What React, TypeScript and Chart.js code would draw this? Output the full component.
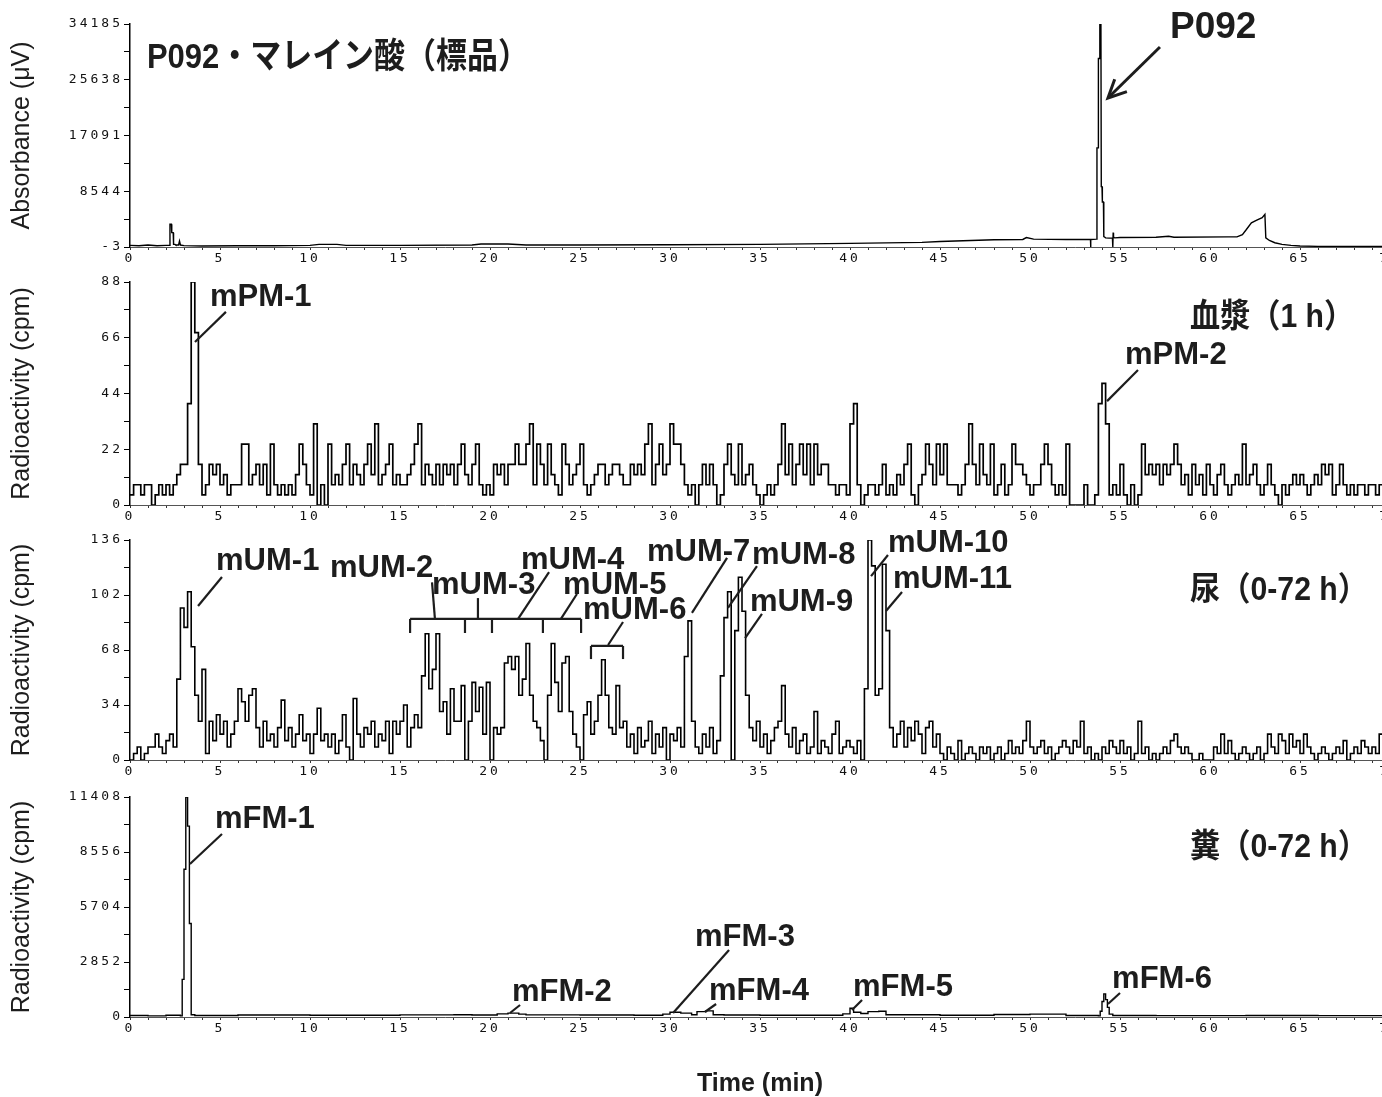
import React, { useEffect, useRef } from "react";
import { Chart, registerables } from "chart.js";

Chart.register(...registerables);

// ---------------- data ----------------
const timeTicks = Array.from({ length: 71 }, (_, i) => i); // 0..70 min
const timeLabelEvery = 5;
const binWidth = 0.2; // min, radioactivity bins

const absTicks = [-3, 8544, 17091, 25638, 34185];
const plasmaTicks = [0, 22, 44, 66, 88];
const urineTicks = [0, 34, 68, 102, 136];
const fecesTicks = [0, 2852, 5704, 8556, 11408];

// [time (min), absorbance (uV)]
const absorbance: [number, number][] = [
  [0, 250], [0.5, 200], [1.0, 300], [1.5, 200], [2.0, 250], [2.2, 250], [2.22, 3500], [2.3, 3500],
  [2.32, 2200], [2.4, 2200], [2.42, 400], [2.5, 400], [2.55, 300], [2.7, 300], [2.75, 900], [2.8, 300],
  [3.0, 200], [4.0, 150], [6.0, 200], [8.0, 200], [10.0, 250], [10.5, 400], [11.5, 400], [12.0, 250],
  [15.0, 250], [19.0, 300], [19.5, 450], [21.0, 450], [22.0, 300], [25.0, 300], [30.0, 350], [35.0, 400],
  [40.0, 550], [44.0, 700], [45.0, 850], [48.0, 1100], [49.6, 1150], [49.8, 1450], [50.2, 1200], [52.0, 1150],
  [53.3, 1150], [53.36, 1150], [53.37, -3], [53.38, 1150], [53.7, 1200], [53.72, 15200], [53.78, 15200],
  [53.8, 28900], [53.86, 28900], [53.88, 34185], [53.94, 34185], [53.96, 9250], [54.0, 9250], [54.02, 6900],
  [54.08, 6900], [54.1, 1600], [54.16, 1500], [54.2, 1400], [54.4, 1350], [54.58, 1350], [54.6, -3],
  [54.62, 2200], [54.64, 1500], [54.7, 1400], [55.0, 1450], [57.0, 1500], [57.7, 1650], [58.0, 1500],
  [61.0, 1550], [61.5, 1550], [61.8, 1900], [62.0, 2600], [62.3, 3700], [62.6, 4100], [62.9, 4500],
  [63.05, 5000], [63.1, 1400], [63.3, 1000], [63.6, 650], [64.0, 400], [64.5, 250], [65.0, 150], [66.0, 100],
  [70.0, 100],
];

// plasma (1 h), cpm per 0.2-min bin starting at 0 min
const plasmaCounts = [
  4, 8, 8, 4, 8, 8, 0, 4, 8, 4, 8, 4, 8, 12, 16, 16, 40, 88, 68, 16, 4, 8, 16, 12, 16,
  8, 12, 4, 8, 8, 8, 24, 24, 8, 12, 16, 8, 16, 4, 24, 8, 4, 8, 4, 8, 4, 12, 24, 16, 8,
  4, 32, 0, 8, 0, 24, 8, 12, 8, 16, 24, 8, 16, 12, 8, 16, 24, 12, 32, 8, 12, 16, 24, 8, 12,
  8, 8, 12, 16, 24, 32, 8, 16, 12, 8, 16, 8, 16, 12, 16, 8, 16, 24, 12, 8, 16, 24, 8, 4, 8,
  4, 16, 12, 16, 8, 16, 16, 24, 16, 16, 24, 32, 8, 24, 16, 8, 24, 12, 8, 4, 24, 16, 8, 12, 16,
  24, 8, 4, 8, 12, 16, 16, 8, 12, 16, 16, 12, 8, 8, 16, 12, 16, 12, 24, 32, 8, 16, 24, 12, 16,
  32, 24, 24, 16, 8, 4, 8, 0, 8, 16, 8, 16, 8, 0, 4, 16, 24, 12, 8, 24, 8, 12, 16, 8, 4,
  0, 4, 8, 4, 8, 16, 32, 12, 24, 8, 16, 24, 12, 24, 8, 24, 12, 16, 16, 8, 8, 4, 8, 8, 4,
  32, 40, 8, 0, 4, 8, 8, 4, 8, 16, 4, 8, 4, 12, 8, 16, 24, 4, 0, 8, 12, 24, 16, 8, 24,
  12, 24, 8, 8, 8, 4, 8, 16, 32, 16, 8, 24, 12, 8, 24, 4, 8, 16, 4, 8, 24, 16, 16, 12, 8,
  4, 8, 8, 16, 24, 16, 8, 4, 8, 4, 24, 0, 0, 0, 0, 8, 0, 0, 4, 40, 48, 32, 4, 8, 4,
  16, 4, 0, 8, 0, 4, 24, 12, 16, 12, 16, 8, 16, 12, 16, 24, 16, 8, 12, 4, 16, 8, 12, 4, 16,
  8, 4, 12, 16, 8, 4, 8, 12, 8, 24, 8, 12, 16, 8, 4, 8, 16, 8, 4, 0, 8, 4, 8, 12, 8,
  12, 8, 4, 8, 12, 8, 16, 12, 16, 4, 8, 16, 8, 4, 8, 4, 8, 8, 4, 8, 8, 4, 8, 8, 16,
];

// urine (0-72 h), cpm per 0.2-min bin starting at 0 min
const urineCounts = [
  0, 4, 8, 0, 4, 8, 8, 16, 8, 4, 12, 16, 8, 50, 94, 82, 104, 70, 40, 24, 56, 4, 24, 12, 28,
  16, 24, 8, 16, 24, 44, 36, 24, 40, 44, 20, 8, 24, 12, 16, 8, 20, 37, 12, 20, 8, 16, 28, 12, 16,
  4, 16, 32, 12, 16, 8, 16, 4, 12, 28, 8, 0, 38, 16, 8, 20, 16, 24, 8, 16, 12, 24, 4, 24, 16,
  24, 34, 8, 20, 28, 20, 52, 78, 44, 56, 78, 30, 36, 16, 44, 24, 24, 46, 0, 24, 48, 30, 45, 16, 48,
  0, 20, 16, 20, 60, 64, 56, 64, 40, 50, 72, 40, 24, 20, 12, 0, 40, 72, 48, 30, 60, 64, 30, 16, 8,
  0, 28, 36, 16, 24, 40, 62, 40, 20, 16, 46, 20, 24, 8, 16, 4, 20, 8, 12, 24, 4, 16, 8, 20, 0,
  16, 12, 20, 8, 64, 86, 24, 8, 4, 16, 8, 20, 4, 12, 52, 88, 104, 0, 80, 113, 92, 40, 20, 12, 24,
  8, 16, 4, 12, 20, 24, 46, 16, 8, 20, 4, 12, 16, 4, 8, 30, 4, 12, 8, 4, 16, 24, 4, 8, 12,
  8, 4, 12, 0, 44, 136, 120, 40, 44, 121, 80, 20, 8, 16, 24, 8, 20, 12, 24, 16, 4, 20, 24, 8, 16,
  4, 0, 8, 4, 0, 12, 0, 4, 8, 4, 0, 8, 4, 8, 0, 4, 8, 0, 4, 12, 4, 8, 4, 12, 24,
  8, 4, 8, 12, 4, 8, 0, 4, 8, 12, 8, 4, 12, 8, 24, 4, 8, 0, 4, 0, 8, 4, 12, 8, 4,
  12, 4, 8, 0, 4, 24, 4, 8, 0, 4, 0, 4, 8, 4, 12, 16, 8, 4, 8, 4, 0, 0, 4, 0, 0,
  0, 8, 4, 16, 4, 12, 4, 0, 4, 8, 4, 0, 4, 8, 0, 4, 16, 8, 4, 16, 12, 4, 16, 8, 12,
  4, 16, 8, 4, 0, 4, 8, 4, 0, 4, 8, 4, 12, 0, 4, 8, 4, 12, 8, 4, 8, 4, 16, 20, 16,
];

// feces (0-72 h): [time (min), cpm]
const fecesCounts: [number, number][] = [
  [0, 80], [1, 60], [2, 90], [2.8, 60], [2.9, 1950], [3.0, 7660], [3.1, 11408], [3.2, 9900], [3.3, 4850],
  [3.4, 120], [3.6, 80], [6, 100], [10, 90], [15, 110], [18, 120], [19, 100], [20.4, 160], [21.0, 200],
  [21.6, 150], [22, 110], [25, 100], [28, 90], [29.6, 150], [30.0, 250], [30.6, 200], [31.2, 120],
  [31.5, 280], [32.0, 320], [32.4, 120], [33, 100], [35, 90], [39.6, 160], [40.0, 450], [40.2, 250],
  [40.6, 180], [41.0, 280], [41.6, 300], [42.0, 120], [45, 90], [48, 130], [50, 150], [52, 80], [53.8, 60],
  [53.9, 300], [54.0, 800], [54.1, 1200], [54.2, 900], [54.3, 500], [54.4, 150], [54.6, 80], [57, 70],
  [62, 80], [66, 70], [70, 70],
];

// ---------------- annotations (data units) ----------------
type TextAnn = { text: string; t: number; v: number; size: number; maxWidth?: number };
type LineAnn = { t1: number; v1: number; t2: number; v2: number; w?: number; arrow?: boolean };

const absTexts: TextAnn[] = [
  { text: "P092・マレイン酸（標品）", t: 0.94, v: 27440, size: 35, maxWidth: 382 },
  { text: "P092", t: 57.78, v: 32040, size: 37 },
];
const absLines: LineAnn[] = [{ t1: 57.22, v1: 30660, t2: 54.33, v2: 22840, w: 3, arrow: true }];

const plasmaTexts: TextAnn[] = [
  { text: "mPM-1", t: 4.44, v: 78.5, size: 31 },
  { text: "血漿（1 h）", t: 58.89, v: 70.2, size: 33, maxWidth: 164 },
  { text: "mPM-2", t: 55.28, v: 55.6, size: 31 },
];
const plasmaLines: LineAnn[] = [
  { t1: 5.33, v1: 76.2, t2: 3.61, v2: 64.3 },
  { t1: 56.0, v1: 53.3, t2: 54.28, v2: 41.0 },
];

const urineTexts: TextAnn[] = [
  { text: "mUM-1", t: 4.78, v: 117.5, size: 31 },
  { text: "mUM-2", t: 11.11, v: 113.1, size: 31 },
  { text: "mUM-3", t: 16.78, v: 102.6, size: 31 },
  { text: "mUM-4", t: 21.72, v: 118.1, size: 31 },
  { text: "mUM-5", t: 24.06, v: 102.6, size: 31 },
  { text: "mUM-6", t: 25.17, v: 87.2, size: 31 },
  { text: "mUM-7", t: 28.72, v: 123.0, size: 31 },
  { text: "mUM-8", t: 34.56, v: 121.2, size: 31 },
  { text: "mUM-9", t: 34.44, v: 92.1, size: 31 },
  { text: "mUM-10", t: 42.11, v: 128.6, size: 31 },
  { text: "mUM-11", t: 42.39, v: 106.3, size: 31 },
  { text: "尿（0-72 h）", t: 58.89, v: 98.9, size: 33, maxWidth: 178 },
];
const urineLines: LineAnn[] = [
  { t1: 5.11, v1: 113.1, t2: 3.78, v2: 95.2 },
  { t1: 16.78, v1: 109.8, t2: 16.94, v2: 87.2 },
  { t1: 19.33, v1: 87.2, t2: 19.33, v2: 100.1 },
  { t1: 21.56, v1: 87.2, t2: 23.28, v2: 116.2 },
  { t1: 23.94, v1: 87.2, t2: 24.83, v2: 102.6 },
  { t1: 15.56, v1: 87.2, t2: 25.06, v2: 87.2 },
  { t1: 15.56, v1: 87.2, t2: 15.56, v2: 78.5 },
  { t1: 18.61, v1: 87.2, t2: 18.61, v2: 78.5 },
  { t1: 20.11, v1: 87.2, t2: 20.11, v2: 78.5 },
  { t1: 22.94, v1: 87.2, t2: 22.94, v2: 78.5 },
  { t1: 25.06, v1: 87.2, t2: 25.06, v2: 78.5 },
  { t1: 27.39, v1: 85.3, t2: 26.56, v2: 71.1 },
  { t1: 25.61, v1: 70.5, t2: 27.39, v2: 70.5 },
  { t1: 25.61, v1: 70.5, t2: 25.61, v2: 62.4 },
  { t1: 27.39, v1: 70.5, t2: 27.39, v2: 62.4 },
  { t1: 33.17, v1: 124.9, t2: 31.22, v2: 90.9 },
  { t1: 34.83, v1: 119.9, t2: 33.22, v2: 94.0 },
  { t1: 35.11, v1: 90.3, t2: 34.17, v2: 75.4 },
  { t1: 42.11, v1: 126.7, t2: 41.17, v2: 113.7 },
  { t1: 42.89, v1: 103.9, t2: 42.0, v2: 92.1 },
];

const fecesTexts: TextAnn[] = [
  { text: "mFM-1", t: 4.72, v: 9801, size: 31 },
  { text: "mFM-2", t: 21.22, v: 830, size: 31 },
  { text: "mFM-3", t: 31.39, v: 3682, size: 31 },
  { text: "mFM-4", t: 32.17, v: 882, size: 31 },
  { text: "mFM-5", t: 40.17, v: 1089, size: 31 },
  { text: "mFM-6", t: 54.56, v: 1504, size: 31 },
  { text: "糞（0-72 h）", t: 58.89, v: 8297, size: 33, maxWidth: 178 },
];
const fecesLines: LineAnn[] = [
  { t1: 5.11, v1: 9489, t2: 3.33, v2: 7934 },
  { t1: 21.67, v1: 622, t2: 21.11, v2: 207 },
  { t1: 33.28, v1: 3474, t2: 30.17, v2: 207 },
  { t1: 32.56, v1: 674, t2: 31.94, v2: 259 },
  { t1: 40.67, v1: 882, t2: 40.11, v2: 363 },
  { t1: 55.0, v1: 1245, t2: 54.33, v2: 674 },
];

// ---------------- helpers ----------------
const binsToPoints = (counts: number[]) => {
  const pts = counts.map((c, i) => ({ x: +(i * binWidth).toFixed(2), y: c }));
  pts.push({ x: +(counts.length * binWidth).toFixed(2), y: counts[counts.length - 1] });
  return pts;
};
const pairsToPoints = (pairs: [number, number][]) => pairs.map(([x, y]) => ({ x, y }));
const withMinor = (ticks: number[]) => {
  const out: number[] = [];
  ticks.forEach((v, i) => {
    out.push(v);
    if (i < ticks.length - 1) out.push((v + ticks[i + 1]) / 2);
  });
  return out;
};

const CANVAS_W = 1420;
const INK = "#1d1d1d";
const LABEL_FONT = '"Liberation Sans", Arial, "Noto Sans CJK JP", sans-serif';
const TICK_FONT = '"DejaVu Sans Mono", "Liberation Mono", monospace';

type PanelCfg = {
  top: number;
  plotH: number;
  axisH: number;
  yTicks: number[];
  yTitle: string;
  points: { x: number; y: number }[];
  stepped: boolean;
  lineW: number;
  texts: TextAnn[];
  lines: LineAnn[];
  xTitle?: string;
};

const PAD_TOP = 24;

const panels: PanelCfg[] = [
  { top: 0, plotH: 223, axisH: 26, yTicks: absTicks, yTitle: "Absorbance (μV)", points: pairsToPoints(absorbance), stepped: false, lineW: 1.4, texts: absTexts, lines: absLines },
  { top: 258, plotH: 223, axisH: 26, yTicks: plasmaTicks, yTitle: "Radioactivity (cpm)", points: binsToPoints(plasmaCounts), stepped: true, lineW: 1.7, texts: plasmaTexts, lines: plasmaLines },
  { top: 516, plotH: 220, axisH: 26, yTicks: urineTicks, yTitle: "Radioactivity (cpm)", points: binsToPoints(urineCounts), stepped: true, lineW: 1.6, texts: urineTexts, lines: urineLines },
  { top: 773, plotH: 220, axisH: 80, yTicks: fecesTicks, yTitle: "Radioactivity (cpm)", points: pairsToPoints(fecesCounts), stepped: true, lineW: 1.4, texts: fecesTexts, lines: fecesLines, xTitle: "Time (min)" },
];

function Panel({ cfg }: { cfg: PanelCfg }) {
  const ref = useRef<HTMLCanvasElement | null>(null);
  const h = PAD_TOP + cfg.plotH + cfg.axisH;

  useEffect(() => {
    const canvas = ref.current;
    if (!canvas) return;
    const yAll = withMinor(cfg.yTicks);

    const overlay = {
      id: "overlay",
      beforeDraw(chart: any) {
        chart.ctx.letterSpacing = "3px";
      },
      afterDraw(chart: any) {
        const ctx = chart.ctx as CanvasRenderingContext2D & { letterSpacing: string };
        const xs = chart.scales.x;
        const ys = chart.scales.y;
        const area = chart.chartArea;
        ctx.save();
        ctx.letterSpacing = "0px";

        // y-axis title
        ctx.save();
        ctx.translate(22, (area.top + area.bottom) / 2);
        ctx.rotate(-Math.PI / 2);
        ctx.font = `25px ${LABEL_FONT}`;
        ctx.fillStyle = INK;
        ctx.textAlign = "center";
        ctx.textBaseline = "middle";
        ctx.fillText(cfg.yTitle, 0, 0);
        ctx.restore();

        // x-axis title
        if (cfg.xTitle) {
          ctx.font = `bold 25px ${LABEL_FONT}`;
          ctx.fillStyle = INK;
          ctx.textAlign = "center";
          ctx.textBaseline = "alphabetic";
          ctx.fillText(cfg.xTitle, (area.left + area.right) / 2, area.bottom + 74);
        }

        // leader lines
        ctx.strokeStyle = INK;
        ctx.lineCap = "butt";
        for (const l of cfg.lines) {
          const x1 = xs.getPixelForValue(l.t1), y1 = ys.getPixelForValue(l.v1);
          const x2 = xs.getPixelForValue(l.t2), y2 = ys.getPixelForValue(l.v2);
          ctx.lineWidth = l.w ?? 2.2;
          ctx.beginPath();
          ctx.moveTo(x1, y1);
          ctx.lineTo(x2, y2);
          ctx.stroke();
          if (l.arrow) {
            const ang = Math.atan2(y2 - y1, x2 - x1);
            const len = 20;
            ctx.beginPath();
            ctx.moveTo(x2 - len * Math.cos(ang - 0.45), y2 - len * Math.sin(ang - 0.45));
            ctx.lineTo(x2, y2);
            ctx.lineTo(x2 - len * Math.cos(ang + 0.45), y2 - len * Math.sin(ang + 0.45));
            ctx.stroke();
          }
        }

        // labels
        ctx.fillStyle = INK;
        ctx.textAlign = "left";
        ctx.textBaseline = "alphabetic";
        for (const a of cfg.texts) {
          ctx.font = `bold ${a.size}px ${LABEL_FONT}`;
          const px = xs.getPixelForValue(a.t);
          const py = ys.getPixelForValue(a.v);
          if (a.maxWidth) ctx.fillText(a.text, px, py, a.maxWidth);
          else ctx.fillText(a.text, px, py);
        }
        ctx.restore();
      },
    };

    const chart = new Chart(canvas, {
      type: "line",
      data: {
        datasets: [
          {
            data: cfg.points,
            borderColor: "#000",
            borderWidth: cfg.lineW,
            pointRadius: 0,
            stepped: cfg.stepped,
            tension: 0,
            fill: false,
          },
        ],
      },
      options: {
        animation: false,
        responsive: false,
        devicePixelRatio: 1,
        layout: { padding: { top: PAD_TOP, left: 0, right: CANVAS_W - 1390, bottom: 0 } },
        plugins: { legend: { display: false }, tooltip: { enabled: false } },
        scales: {
          x: {
            type: "linear",
            min: 0,
            max: 70,
            afterFit: (s: any) => {
              s.height = cfg.axisH;
            },
            afterBuildTicks: (s: any) => {
              s.ticks = timeTicks.map((v) => ({ value: v }));
            },
            ticks: {
              autoSkip: false,
              maxRotation: 0,
              padding: 1,
              color: "#111",
              font: { family: TICK_FONT, size: 13 },
              callback: (v: any) => (Number(v) % timeLabelEvery === 0 ? String(v) : ""),
            },
            grid: { drawOnChartArea: false, tickLength: 3, color: "#333", lineWidth: 1 },
            border: { display: true, color: "#555", width: 1 },
          },
          y: {
            type: "linear",
            min: cfg.yTicks[0],
            max: cfg.yTicks[cfg.yTicks.length - 1],
            afterFit: (s: any) => {
              s.width = 130;
            },
            afterBuildTicks: (s: any) => {
              s.ticks = yAll.map((v) => ({ value: v }));
            },
            ticks: {
              autoSkip: false,
              padding: 1,
              color: "#111",
              font: { family: TICK_FONT, size: 13 },
              callback: (v: any) => (cfg.yTicks.includes(Number(v)) ? String(v) : ""),
            },
            grid: { drawOnChartArea: false, tickLength: 6, color: "#000", lineWidth: 1 },
            border: { display: true, color: "#000", width: 1.5 },
          },
        },
      },
      plugins: [overlay],
    } as any);

    return () => chart.destroy();
  }, []);

  return (
    <canvas
      ref={ref}
      width={CANVAS_W}
      height={h}
      style={{ position: "absolute", left: 0, top: cfg.top, width: CANVAS_W, height: h }}
    />
  );
}

export default function App() {
  return (
    <div
      style={{
        position: "absolute",
        left: 0,
        top: 0,
        width: 1382,
        height: 1097,
        overflow: "hidden",
        background: "#fff",
      }}
    >
      {panels.map((p, i) => (
        <Panel key={i} cfg={p} />
      ))}
    </div>
  );
}
